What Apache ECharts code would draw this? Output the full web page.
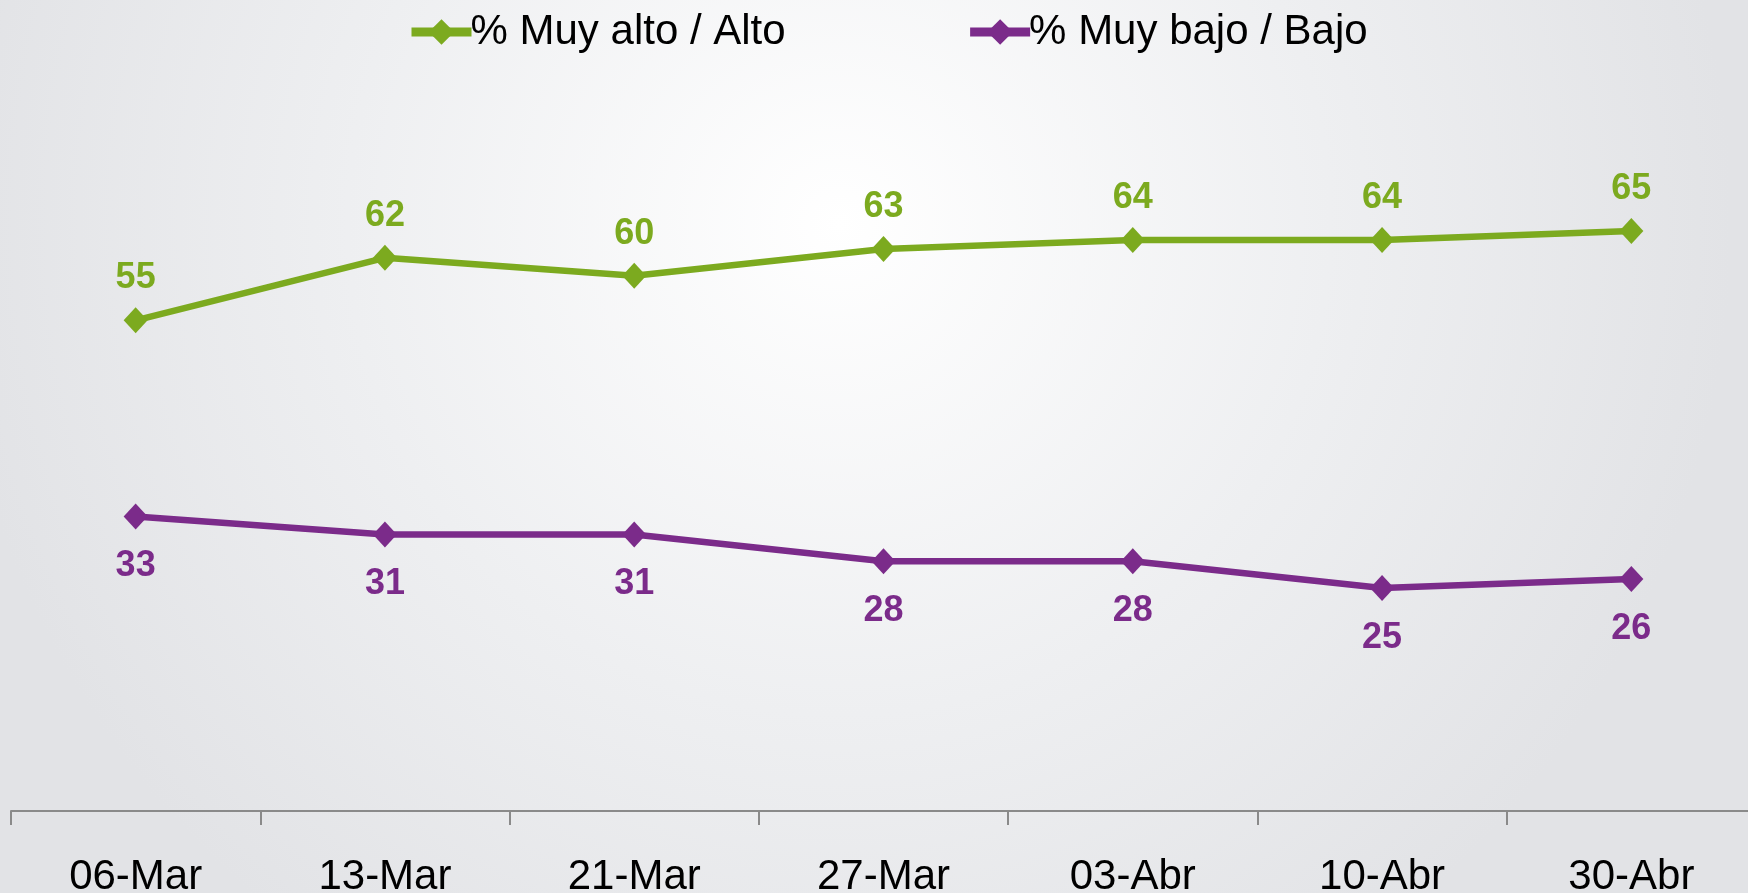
<!DOCTYPE html>
<html>
<head>
<meta charset="utf-8">
<script src="https://cdn.jsdelivr.net/npm/echarts@6/dist/echarts.min.js"></script>
<style>
  html, body { margin: 0; padding: 0; }
  #main { width: 1748px; height: 893px; }
</style>
</head>
<body>
<div id="main"></div>
<script>
// fechas de la encuesta
var fechas = ['06-Mar', '13-Mar', '21-Mar', '27-Mar', '03-Abr', '10-Abr', '30-Abr'];
// % Muy alto / Alto
var altoAlto = [55, 62, 60, 63, 64, 64, 65];
// % Muy bajo / Bajo
var bajoBajo = [33, 31, 31, 28, 28, 25, 26];

var verde = '#7caa1f';
var morado = '#7b2b8a';
var fuente = '"Liberation Sans", Arial, sans-serif';

var myChart = echarts.init(document.getElementById('main'));
myChart.setOption({
    backgroundColor: {
        type: 'radial',
        x: 0.48, y: 0.25, r: 1.0,
        colorStops: [
            {offset: 0, color: '#ffffff'},
            {offset: 0.55, color: '#eeeff1'},
            {offset: 1, color: '#e2e3e6'}
        ]
    },
    animation: false,
    legend: {
        data: ['% Muy alto / Alto', '% Muy bajo / Bajo'],
        left: 402,
        top: 6,
        itemWidth: 60,
        itemHeight: 32,
        itemGap: 180,
        lineStyle: { width: 9 },
        textStyle: {
            fontFamily: fuente,
            fontSize: 42,
            color: '#000',
            padding: [0, 0, 0, -6]
        }
    },
    grid: {
        left: 11,
        right: -8,
        top: 8,
        bottom: 82,
        outerBoundsMode: 'none',
        containLabel: false
    },
    xAxis: {
        type: 'category',
        data: fechas,
        boundaryGap: true,
        axisLine: { lineStyle: { color: '#8a8a8a', width: 2 } },
        axisTick: { show: true, length: 14, lineStyle: { color: '#8a8a8a', width: 2 } },
        axisLabel: {
            fontFamily: fuente,
            fontSize: 42,
            color: '#000',
            margin: 45
        }
    },
    yAxis: {
        type: 'value',
        min: 0,
        max: 90,
        show: false,
        splitLine: { show: false }
    },
    series: [
        {
            name: '% Muy alto / Alto',
            type: 'line',
            data: altoAlto,
            symbol: 'diamond',
            symbolSize: [24, 26],
            lineStyle: { color: verde, width: 6.5 },
            itemStyle: { color: verde },
            label: {
                show: true,
                position: 'top',
                distance: 11,
                color: verde,
                fontFamily: fuente,
                fontWeight: 'bold',
                fontSize: 36
            }
        },
        {
            name: '% Muy bajo / Bajo',
            type: 'line',
            data: bajoBajo,
            symbol: 'diamond',
            symbolSize: [24, 26],
            lineStyle: { color: morado, width: 6.5 },
            itemStyle: { color: morado },
            label: {
                show: true,
                position: 'bottom',
                distance: 19,
                color: morado,
                fontFamily: fuente,
                fontWeight: 'bold',
                fontSize: 36
            }
        }
    ]
});
</script>
</body>
</html>
